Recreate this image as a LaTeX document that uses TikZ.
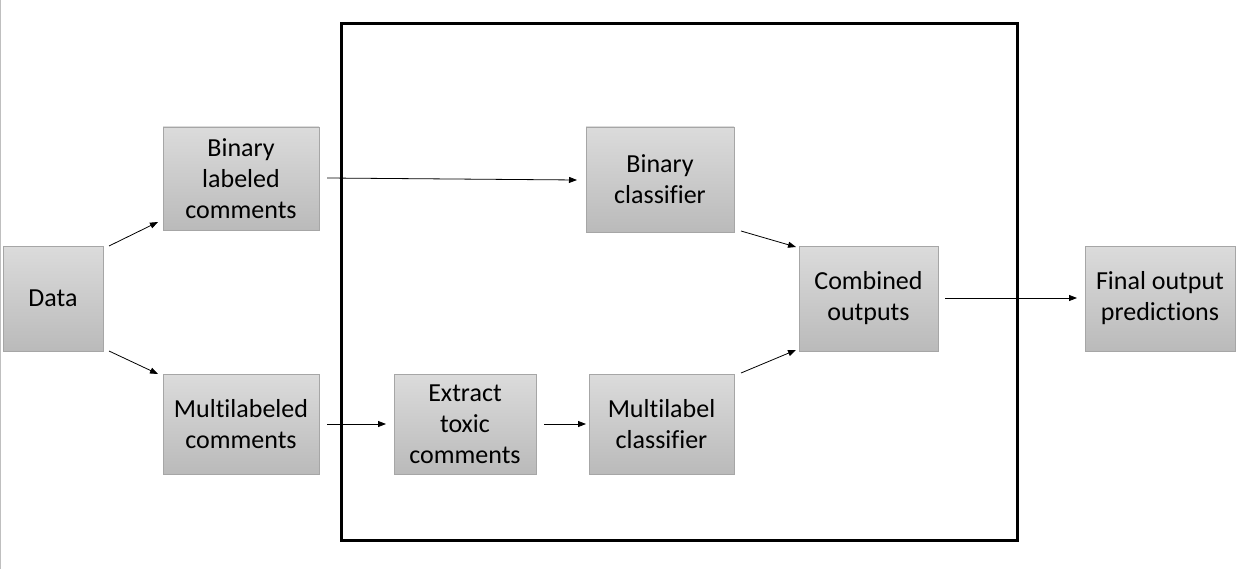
\documentclass[tikz,border=0pt]{standalone}
\usepackage{fontspec}
\setmainfont[Ligatures={NoCommon}]{Carlito}
\usetikzlibrary{arrows.meta}
\begin{document}
\begin{tikzpicture}[x=1pt,y=-1pt,
  box/.style={draw=black!35, line width=0.8pt, top color=black!14, bottom color=black!27,
    align=center, inner sep=0pt, font=\fontsize{26}{31}\selectfont, anchor=center},
  arr/.style={line width=0.8pt, -{Triangle[length=8pt,width=6pt]}},
  frame/.style={line width=3pt}]
\useasboundingbox (0,0) rectangle (1246,569);
\fill[white] (0,0) rectangle (1246,569);
\draw[black!25, line width=1pt] (0.5,0) -- (0.5,569);
% frame
\draw[frame] (341,24) rectangle (1017,540);
% nodes
\node[box, minimum width=100pt, minimum height=105pt] (data) at (53,298.5) {Data};
\node[box, minimum width=156pt, minimum height=103pt] (binlab) at (241,178.5) {Binary\\labeled\\comments};
\node[box, minimum width=156pt, minimum height=100pt] (multilab) at (241,424) {Multilabeled\\comments};
\node[box, minimum width=148pt, minimum height=105pt] (bincls) at (660,179.5) {Binary\\classifier};
\node[box, minimum width=142pt, minimum height=100pt] (extract) at (465,424) {Extract\\toxic\\comments};
\node[box, minimum width=145pt, minimum height=100pt] (multicls) at (661.5,424) {Multilabel\\classifier};
\node[box, minimum width=139pt, minimum height=105pt] (comb) at (868.5,298.5) {Combined\\outputs};
\node[box, minimum width=150pt, minimum height=105pt] (final) at (1160,298.5) {Final output\\predictions};
% connector end points
\coordinate (c1s) at (109,246); \coordinate (c1e) at (158,222);
\coordinate (c2s) at (109,351); \coordinate (c2e) at (158,374);
\coordinate (c3s) at (327,178); \coordinate (c3e) at (577,180);
\coordinate (c4s) at (327,424); \coordinate (c4e) at (386,424);
\coordinate (c5s) at (544,424); \coordinate (c5e) at (586,424);
\coordinate (c6s) at (741,231); \coordinate (c6e) at (796,247);
\coordinate (c7s) at (741,373); \coordinate (c7e) at (796,350);
\coordinate (c8s) at (945,298); \coordinate (c8e) at (1077,298);
\draw[arr] (c1s) -- (c1e);
\draw[arr] (c2s) -- (c2e);
\draw[arr] (c3s) -- (c3e);
\draw[arr] (c4s) -- (c4e);
\draw[arr] (c5s) -- (c5e);
\draw[arr] (c6s) -- (c6e);
\draw[arr] (c7s) -- (c7e);
\draw[arr] (c8s) -- (c8e);
\end{tikzpicture}
\end{document}
